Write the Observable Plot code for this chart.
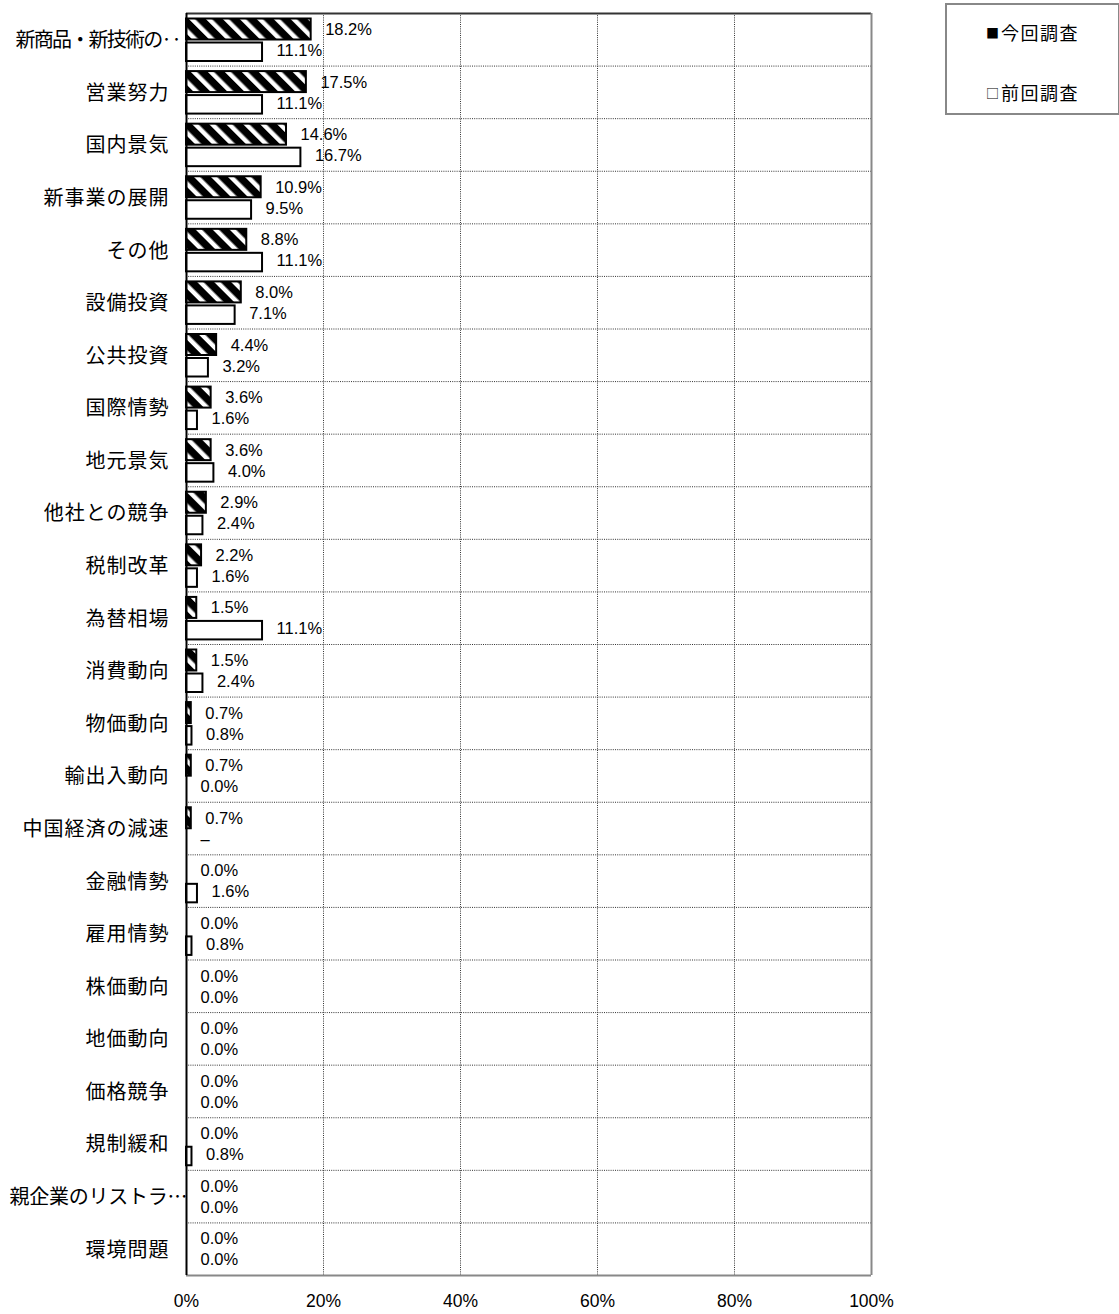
<!DOCTYPE html>
<html>
<head>
<meta charset="utf-8">
<script src="https://cdn.jsdelivr.net/npm/d3@7"></script>
<script src="https://cdn.jsdelivr.net/npm/@observablehq/plot@0.6"></script>
<style>
  html, body { margin: 0; padding: 0; background: white; }
  #wrap { position: relative; width: 1119px; height: 1314px; }
  #legend { position: absolute; left: 945px; top: 3px; width: 171px; height: 108px;
    border: 2px solid #888; background: white; font-family: "Noto Sans CJK JP", sans-serif; font-size: 18px; color: #000; }
  #legend div { position: absolute; left: 0; right: 0; text-align: center; line-height: 20px; letter-spacing: 1.5px; }
  #legend span.m { font-size: 13px; vertical-align: 2px; letter-spacing: 0; margin-right: 2px; }
</style>
</head>
<body>
<div id="wrap">
  <div id="chart"></div>
  <div id="legend">
    <div style="top: 17px;"><span class="m">■</span>今回調査</div>
    <div style="top: 77px;"><span class="m">□</span>前回調査</div>
  </div>
</div>
<script>
const categories = ["新商品・新技術の‥","営業努力","国内景気","新事業の展開","その他","設備投資","公共投資","国際情勢","地元景気","他社との競争","税制改革","為替相場","消費動向","物価動向","輸出入動向","中国経済の減速","金融情勢","雇用情勢","株価動向","地価動向","価格競争","規制緩和","親企業のリストラ…","環境問題"];
const current = [18.2,17.5,14.6,10.9,8.8,8.0,4.4,3.6,3.6,2.9,2.2,1.5,1.5,0.7,0.7,0.7,0.0,0.0,0.0,0.0,0.0,0.0,0.0,0.0];
const previous = [11.1,11.1,16.7,9.5,11.1,7.1,3.2,1.6,4.0,2.4,1.6,11.1,2.4,0.8,0.0,null,1.6,0.8,0.0,0.0,0.0,0.8,0.0,0.0];
const xTicks = [0,20,40,60,80,100];
const gridX = [20,40,60,80];

const data = categories.map((c, i) => ({category: c, current: current[i], previous: previous[i]}));

const W = 1119, H = 1314, mT = 13, mB = 39, mL = 186, mR = 248;
const bw = (H - mT - mB) / categories.length;
const grid = {stroke: "#333", strokeDasharray: "1,1.2", strokeWidth: 1};
const numFont = "Liberation Sans, Arial, sans-serif";

const svg = Plot.plot({
  width: W, height: H,
  marginTop: mT, marginBottom: mB, marginLeft: mL, marginRight: mR,
  style: {fontFamily: "'Noto Sans CJK JP', sans-serif", background: "white", color: "black"},
  x: {domain: [0, 100], label: null},
  y: {domain: categories, padding: 0, round: false, label: null},
  marks: [
    Plot.ruleX(gridX, grid),
    Plot.ruleY(categories.slice(1), {y: d => d, dy: -bw / 2, ...grid}),
    Plot.barX(data, {x: "current", y: "category", fill: "url(#hatch)", stroke: "black", strokeWidth: 2, insetTop: 5.5, insetBottom: bw - 26.5}),
    Plot.barX(data.filter(d => d.previous != null), {x: "previous", y: "category", fill: "white", stroke: "black", strokeWidth: 2, insetTop: 29.5, insetBottom: bw - 48}),
    Plot.text(data, {x: "current", y: "category", text: d => d.current.toFixed(1) + "%", dx: 14, dy: -10, textAnchor: "start", fontSize: 16.5, fontFamily: numFont, fill: "black"}),
    Plot.text(data, {x: d => d.previous ?? 0, y: "category", text: d => d.previous == null ? "–" : d.previous.toFixed(1) + "%", dx: 14, dy: 11, textAnchor: "start", fontSize: 16.5, fontFamily: numFont, fill: "black"}),
    Plot.ruleY([categories[0]], {dy: -bw / 2, stroke: "#333", strokeWidth: 2}),
    Plot.ruleY([categories[categories.length - 1]], {dy: bw / 2, stroke: "#888", strokeWidth: 2}),
    Plot.ruleX([100], {stroke: "#888", strokeWidth: 2}),
    Plot.ruleX([0], {stroke: "black", strokeWidth: 2}),
    Plot.axisX({ticks: xTicks, tickFormat: d => d + "%", tickSize: 0, tickPadding: 19, fontSize: 17.5, fontFamily: numFont, label: null}),
    Plot.axisY({tickSize: 0, tickPadding: 17, fontSize: 20, dy: 1, label: null})
  ]
});

// long labels overflow toward the axis in the original, with tighter spacing
const longLabels = {"新商品・新技術の‥": {len: 166, shift: 12}, "親企業のリストラ…": {len: 178, shift: 18}};
d3.select(svg).selectAll('g[aria-label="y-axis tick label"] text').each(function() {
  const t = d3.select(this);
  const s = longLabels[this.textContent];
  if (s) {
    t.style("letter-spacing", "0px")
      .attr("textLength", s.len).attr("lengthAdjust", "spacing")
      .attr("transform", (t.attr("transform") || "") + ` translate(${s.shift},0)`);
  } else {
    t.style("letter-spacing", "1px");
  }
});

const defs = d3.select(svg).insert("defs", ":first-child");
const pat = defs.append("pattern").attr("id", "hatch").attr("patternUnits", "userSpaceOnUse")
  .attr("width", 12).attr("height", 12).attr("patternTransform", "rotate(-45)");
pat.append("rect").attr("width", 12).attr("height", 12).attr("fill", "black");
pat.append("rect").attr("x", 0).attr("width", 4.5).attr("height", 12).attr("fill", "white");

document.getElementById("chart").appendChild(svg);
</script>
</body>
</html>
